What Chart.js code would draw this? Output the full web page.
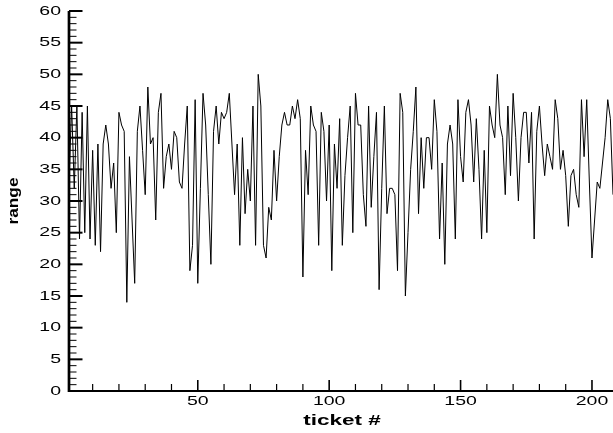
<!DOCTYPE html>
<html>
<head>
<meta charset="utf-8">
<script src="https://cdn.jsdelivr.net/npm/chart.js@4.4.0/dist/chart.umd.min.js"></script>
<style>
    html, body { margin: 0; padding: 0; background: #fff; }
    #wrap { width: 613px; height: 433px; }
</style>
</head>
<body>
<div id="wrap"><canvas id="chart" width="613" height="433"></canvas></div>
<script>
// Data
var range = [
    33, 45, 32, 45, 24, 44, 25, 45, 24, 38,
    23, 39, 22, 39, 42, 39, 32, 36, 25, 44,
    42, 41, 14, 37, 27, 17, 41, 45, 38, 31,
    48, 39, 40, 27, 44, 47, 32, 37, 39, 35,
    41, 40, 33, 32, 39, 45, 19, 23, 46, 17,
    32, 47, 42, 31, 20, 41, 45, 39, 44, 43,
    44, 47, 39, 31, 39, 23, 40, 28, 35, 30,
    45, 23, 50, 45, 23, 21, 29, 27, 38, 30,
    37, 42, 44, 42, 42, 45, 43, 46, 43, 18,
    38, 31, 45, 42, 41, 23, 44, 41, 30, 42,
    19, 39, 32, 43, 23, 34, 40, 45, 25, 47,
    42, 42, 31, 26, 45, 29, 37, 44, 16, 32,
    45, 28, 32, 32, 31, 19, 47, 44, 15, 25,
    35, 41, 48, 28, 40, 32, 40, 40, 35, 46,
    41, 24, 36, 20, 39, 42, 39, 24, 46, 37,
    33, 44, 46, 42, 33, 43, 35, 24, 38, 25,
    45, 42, 40, 50, 42, 40, 31, 45, 34, 47,
    40, 30, 40, 44, 44, 36, 44, 24, 41, 45,
    39, 34, 39, 37, 35, 46, 43, 35, 38, 34,
    26, 34, 35, 31, 29, 46, 37, 46, 33, 21,
    27, 33, 32, 36, 40, 46, 43, 31
];
// ticket # is just the position in the list
var tickets = range.map(function (v, i) { return i + 1; });

var xLabels = [50, 100, 150, 200];
var xMinor = [10, 20, 30, 40, 60, 70, 80, 90, 110, 120, 130, 140, 160, 170, 180, 190];
var yLabels = [0, 5, 10, 15, 20, 25, 30, 35, 40, 45, 50, 55, 60];
var xTitle = 'ticket #';
var yTitle = 'range';

var app = {};
app.chart = {};

/**
 * Draw text stretched along its baseline
 */
app.chart.wideText = function (ctx, text, px, py, sx, align) {
    ctx.save();
    ctx.translate(px, py);
    ctx.scale(sx, 1);
    ctx.textAlign = align;
    ctx.textBaseline = 'middle';
    ctx.fillText(text, 0, 0);
    ctx.restore();
};

// Axes, inward ticks, labels and titles
app.chart.axes = {
    id: 'axes',
    afterDraw: function (chart) {
        var ctx = chart.ctx;
        var sx = chart.scales.x, sy = chart.scales.y;
        var area = chart.chartArea;
        var x0 = area.left, y0 = area.bottom;

        ctx.save();
        ctx.strokeStyle = '#000';
        ctx.fillStyle = '#000';

        // y minor ticks (every 1)
        ctx.lineWidth = 1;
        for (var v = 0; v <= 60; v++) {
            if (v % 5 === 0) continue;
            var py = sy.getPixelForValue(v);
            ctx.beginPath();
            ctx.moveTo(x0, py);
            ctx.lineTo(x0 + 7.5, py);
            ctx.stroke();
        }
        // y major ticks
        ctx.lineWidth = 2;
        yLabels.forEach(function (t) {
            var py = sy.getPixelForValue(t);
            ctx.beginPath();
            ctx.moveTo(x0, py);
            ctx.lineTo(x0 + 13.5, py);
            ctx.stroke();
        });
        // x minor ticks
        ctx.lineWidth = 1.2;
        xMinor.forEach(function (t) {
            var px = sx.getPixelForValue(t);
            ctx.beginPath();
            ctx.moveTo(px, y0);
            ctx.lineTo(px, y0 - 7);
            ctx.stroke();
        });
        // x major ticks
        ctx.lineWidth = 1.6;
        xLabels.forEach(function (t) {
            var px = sx.getPixelForValue(t);
            ctx.beginPath();
            ctx.moveTo(px, y0);
            ctx.lineTo(px, y0 - 11);
            ctx.stroke();
        });

        // axis lines
        ctx.lineWidth = 2;
        ctx.beginPath();
        ctx.moveTo(x0 - 1, y0);
        ctx.lineTo(area.right, y0);
        ctx.stroke();
        ctx.lineWidth = 2.7;
        ctx.beginPath();
        ctx.moveTo(x0, area.top);
        ctx.lineTo(x0, y0 + 1);
        ctx.stroke();

        // tick labels
        ctx.font = '13px "Liberation Sans", Arial, sans-serif';
        yLabels.forEach(function (t) {
            app.chart.wideText(ctx, String(t), x0 - 8, sy.getPixelForValue(t), 1.5, 'right');
        });
        xLabels.forEach(function (t) {
            app.chart.wideText(ctx, String(t), sx.getPixelForValue(t), y0 + 10.5, 1.5, 'center');
        });

        // titles
        ctx.font = 'bold 15px "Liberation Sans", Arial, sans-serif';
        app.chart.wideText(ctx, xTitle, (x0 + area.right) / 2 + 1, y0 + 30, 1.5, 'center');

        ctx.save();
        ctx.translate(17.6, (area.top + y0) / 2);
        ctx.rotate(-Math.PI / 2);
        ctx.scale(1.15, 1);
        ctx.textAlign = 'center';
        ctx.textBaseline = 'alphabetic';
        ctx.fillText(yTitle, 0, 0);
        ctx.restore();

        ctx.restore();
    }
};

app.chart.obj = new Chart(document.getElementById('chart').getContext('2d'), {
    type: 'line',
    data: {
        datasets: [
            {
                data: tickets.map(function (t, i) { return { x: t, y: range[i] }; }),
                borderColor: '#000',
                borderWidth: 1,
                pointRadius: 0,
                tension: 0,
                fill: false
            }
        ]
    },
    options: {
        responsive: false,
        animation: false,
        devicePixelRatio: 1,
        layout: { padding: { left: 69, right: 0, top: 11, bottom: 42 } },
        plugins: {
            legend: { display: false },
            tooltip: { enabled: false }
        },
        scales: {
            x: {
                type: 'linear',
                min: 1,
                max: 208,
                grid: { display: false, drawTicks: false },
                border: { display: false },
                ticks: { display: false }
            },
            y: {
                min: 0,
                max: 60,
                grid: { display: false, drawTicks: false },
                border: { display: false },
                ticks: { display: false }
            }
        }
    },
    plugins: [app.chart.axes]
});
</script>
</body>
</html>
